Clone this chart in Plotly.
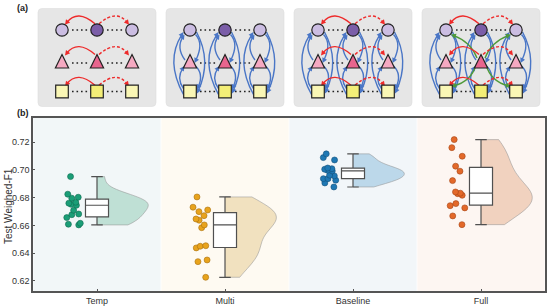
import numpy as np
import plotly.graph_objects as go

# ---------------- data (panel b) ----------------
categories = ["Temp", "Multi", "Baseline", "Full"]
temp = [0.6952, 0.6803, 0.6825, 0.6796, 0.6767, 0.6752, 0.6760, 0.6745,
        0.6709, 0.6677, 0.6682, 0.6656, 0.6615, 0.6608, 0.6603]
multi = [0.6805, 0.6731, 0.6711, 0.6699, 0.6670, 0.6646, 0.6637, 0.6603,
         0.6583, 0.6453, 0.6437, 0.6449, 0.6350, 0.6338, 0.6225]
baseline = [0.7116, 0.7089, 0.7072, 0.6993, 0.6998, 0.7005, 0.7014, 0.7009,
            0.6957, 0.6962, 0.6926, 0.6937, 0.6937, 0.6906, 0.6877]
full = [0.7219, 0.7161, 0.7099, 0.7027, 0.6991, 0.6923, 0.6841, 0.6832,
        0.6829, 0.6817, 0.6757, 0.6742, 0.6726, 0.6668, 0.6605]
series = [temp, multi, baseline, full]
y_ticks = [0.62, 0.64, 0.66, 0.68, 0.70, 0.72]
y_tick_labels = ["0.62", "0.64", "0.66", "0.68", "0.70", "0.72"]

# ---------------- styles ----------------
point_colors = ["#1b9e77", "#e8a31c", "#1f78b4", "#e3692a"]
point_edges = ["#0f6b50", "#a87010", "#12507a", "#a44515"]
violin_fills = ["#bfe0d5", "#f1e1bf", "#bcd8ea", "#f1d2bf"]
band_colors = ["#f2f7f8", "#fefaf2", "#f2f6f9", "#fdf6f2"]
FONT = "Liberation Sans, Arial, sans-serif"

W, H = 550, 306
PL, PR, PT, PB = 33, 545, 118, 291  # plot area, pixels


def px(x):
    return x / W


def py(y):
    return 1 - y / H


fig = go.Figure()

for i, (cat, vals) in enumerate(zip(categories, series)):
    v = np.asarray(vals)
    bw = np.std(v, ddof=1) * len(v) ** (-0.2)
    fig.add_trace(go.Violin(
        x=[cat] * len(v), y=v, side="positive", width=0.8, spanmode="hard",
        bandwidth=bw, points=False, box_visible=False, meanline_visible=False,
        fillcolor=violin_fills[i], opacity=1,
        line=dict(color="rgba(150,150,150,0.7)", width=0.8),
        scalemode="width", showlegend=False, hoverinfo="skip"))
    fig.add_trace(go.Box(
        x=[cat] * len(v), y=v, width=0.18, whiskerwidth=0.5,
        boxpoints="all", jitter=0.8, pointpos=-2.0, quartilemethod="linear",
        fillcolor="white", line=dict(color="#505050", width=1.2),
        marker=dict(size=6, color=point_colors[i],
                    line=dict(color=point_edges[i], width=0.6)),
        showlegend=False))

shapes = []
for i in range(len(categories)):
    shapes.append(dict(type="rect", xref="x", yref="y domain",
                       x0=i - 0.497, x1=i + 0.497, y0=0, y1=1,
                       fillcolor=band_colors[i], line=dict(width=0), layer="below"))

# ---------------- panel (a) schematic, pixel coordinates on x2/y2 ----------------
box_centers = [PL + (i + 0.5) * (PR - PL) / 4 for i in range(4)]
col_off = [-35, 0, 35]
row_y = [30, 61, 91.5]
BOX_HW, BOX_T, BOX_B = 59, 8.5, 106.5

light = ["#cbbde2", "#f5a9c1", "#f9f6b5"]
dark = ["#7b5ea8", "#e8658e", "#f3ee77"]
RED, BLUE, GREEN = "#ee2a2a", "#4a76c6", "#4f9a3a"


def rounded_rect(x0, y0, x1, y1, r):
    return (f"M{x0+r},{y0} L{x1-r},{y0} Q{x1},{y0} {x1},{y0+r} L{x1},{y1-r} "
            f"Q{x1},{y1} {x1-r},{y1} L{x0+r},{y1} Q{x0},{y1} {x0},{y1-r} "
            f"L{x0},{y0+r} Q{x0},{y0} {x0+r},{y0} Z")


def arc(p0, c, p1, color, dash="solid", width=1.4):
    d = np.array(p1, float) - np.array(c, float)
    d /= np.linalg.norm(d)
    L, Wd = 5.0, 2.6
    base = np.array(p1) - d * L
    n = np.array([-d[1], d[0]])
    b1, b2 = base + n * Wd, base - n * Wd
    e = np.array(p1) - d * (L * 0.6)
    shapes.append(dict(type="path", xref="x2", yref="y2",
                       path=f"M{p0[0]},{p0[1]} Q{c[0]},{c[1]} {e[0]},{e[1]}",
                       line=dict(color=color, width=width, dash=dash)))
    shapes.append(dict(type="path", xref="x2", yref="y2",
                       path=f"M{p1[0]},{p1[1]} L{b1[0]},{b1[1]} L{b2[0]},{b2[1]} Z",
                       fillcolor=color, line=dict(width=0)))


for bi, bx in enumerate(box_centers):
    shapes.append(dict(type="path", xref="x2", yref="y2",
                       path=rounded_rect(bx - BOX_HW, BOX_T, bx + BOX_HW, BOX_B, 4),
                       fillcolor="#e6e6e6", line=dict(color="#dedede", width=0.6),
                       layer="below"))
    cols = [bx + o for o in col_off]
    # dotted separators
    for r, y in enumerate(row_y):
        yy = y + (2 if r == 1 else 0)
        for a, b in [(cols[0], cols[1]), (cols[1], cols[2])]:
            shapes.append(dict(type="line", xref="x2", yref="y2",
                               x0=a + 10, x1=b - 8, y0=yy, y1=yy,
                               line=dict(color="#222", width=1.6, dash="1.6px,2.9px")))
    # blue vertical arcs
    if bi in (1, 2, 3):
        y0, y1, y2 = row_y
        for cx in cols:
            arc((cx - 5, y1 - 1), (cx - 14, (y0 + y1) / 2 + 2), (cx - 5.5, y0 + 4.5), BLUE)
            arc((cx - 6.5, y2 - 3), (cx - 14, (y1 + y2) / 2 + 2), (cx - 5.5, y1 + 5), BLUE)
            arc((cx - 6.5, y2 + 3), (cx - 25, (y0 + y2) / 2), (cx - 6.5, y0 + 2), BLUE)
            arc((cx + 5.5, y0 + 4.5), (cx + 14, (y0 + y1) / 2 - 2), (cx + 4.5, y1 + 2), BLUE)
            arc((cx + 5.5, y1 + 5), (cx + 14, (y1 + y2) / 2 - 2), (cx + 7, y2 - 2), BLUE)
            arc((cx + 6.5, y0 + 2), (cx + 22, (y0 + y2) / 2), (cx + 7, y2 + 2), BLUE)
    # green diagonal arcs
    if bi == 3:
        y0, y1, y2 = row_y
        mx = cols[1]
        for s in (-1, 1):
            arc((mx + s * 4, y1 - 3), (mx + s * 10, y0 + 12), (cols[1 + s] - s * 5, y0 + 4.5), GREEN)
            arc((mx + s * 5, y1 + 4), (mx + s * 10, y2 - 10), (cols[1 + s] - s * 5, y2 - 5), GREEN)
    # red horizontal arcs
    if bi in (0, 2, 3):
        tops = [row_y[0] - 6.2, row_y[1] - 6.5, row_y[2] - 6.3]
        for t in tops:
            mx = cols[1]
            arc((mx - 2, t), ((mx + cols[0]) / 2 - 2, t - 15), (cols[0] + 3, t + 1), RED)
            arc((mx + 2, t), ((mx + cols[2]) / 2 + 2, t - 15), (cols[2] - 3, t + 1), RED,
                dash="3px,2px")
    # nodes
    for ci, cx in enumerate(cols):
        fc = [dark[k] if ci == 1 else light[k] for k in range(3)]
        ln = dict(color="#222", width=1.2)
        y = row_y[0]
        shapes.append(dict(type="circle", xref="x2", yref="y2", x0=cx - 6.2, x1=cx + 6.2,
                           y0=y - 6.2, y1=y + 6.2, fillcolor=fc[0], line=ln))
        y = row_y[1]
        shapes.append(dict(type="path", xref="x2", yref="y2",
                           path=f"M{cx},{y-6.5} L{cx+6.6},{y+7} L{cx-6.6},{y+7} Z",
                           fillcolor=fc[1], line=ln))
        y = row_y[2]
        shapes.append(dict(type="rect", xref="x2", yref="y2", x0=cx - 6.3, x1=cx + 6.3,
                           y0=y - 6.3, y1=y + 6.3, fillcolor=fc[2], line=ln))

# invisible trace to anchor x2/y2
fig.add_trace(go.Scatter(x=[1], y=[1], xaxis="x2", yaxis="y2", mode="markers",
                         marker=dict(opacity=0), showlegend=False, hoverinfo="skip"))

TOP_H = 110
fig.update_layout(
    width=W, height=H, autosize=False,
    margin=dict(l=0, r=0, t=0, b=0),
    paper_bgcolor="white", plot_bgcolor="rgba(0,0,0,0)",
    font=dict(family=FONT, color="#333"),
    violinmode="overlay", boxmode="overlay",
    shapes=shapes,
    xaxis=dict(domain=[px(PL), px(PR)], range=[-0.5, 3.5], type="category",
               categoryorder="array", categoryarray=categories,
               showline=True, mirror=True, linecolor="#555", linewidth=1.5,
               ticks="inside", ticklen=2, tickcolor="#555", showgrid=False,
               zeroline=False, tickfont=dict(size=9, color="#333"), automargin=False),
    yaxis=dict(domain=[py(PB), py(PT)], range=[0.6126, 0.7375],
               tickvals=y_ticks, ticktext=y_tick_labels,
               showline=True, mirror=True, linecolor="#555", linewidth=1.5,
               ticks="inside", ticklen=2, tickcolor="#555", showgrid=False,
               zeroline=False, tickfont=dict(size=9, color="#333"), automargin=False),
    xaxis2=dict(domain=[0, 1], range=[0, W], visible=False, anchor="y2",
                fixedrange=True),
    yaxis2=dict(domain=[py(TOP_H), 1], range=[TOP_H, 0], visible=False, anchor="x2",
                fixedrange=True),
    annotations=[
        dict(text="Test Weighed-F1", xref="paper", yref="paper", x=px(8),
             y=py(206), xanchor="center", yanchor="middle", textangle=-90,
             showarrow=False, font=dict(size=10, color="#333")),
        dict(text="<b>(a)</b>", xref="paper", yref="paper", x=px(22.5), y=py(8),
             xanchor="center", yanchor="middle",
             showarrow=False, font=dict(size=9, color="#222")),
        dict(text="<b>(b)</b>", xref="paper", yref="paper", x=px(22.5), y=py(113),
             xanchor="center", yanchor="middle",
             showarrow=False, font=dict(size=9, color="#222")),
    ],
)

# remove the browser's default 8px body margin so the figure fills the window
fig.write_html("out.html", config={"displayModeBar": False},
               post_script="document.body.style.margin='0px';")
